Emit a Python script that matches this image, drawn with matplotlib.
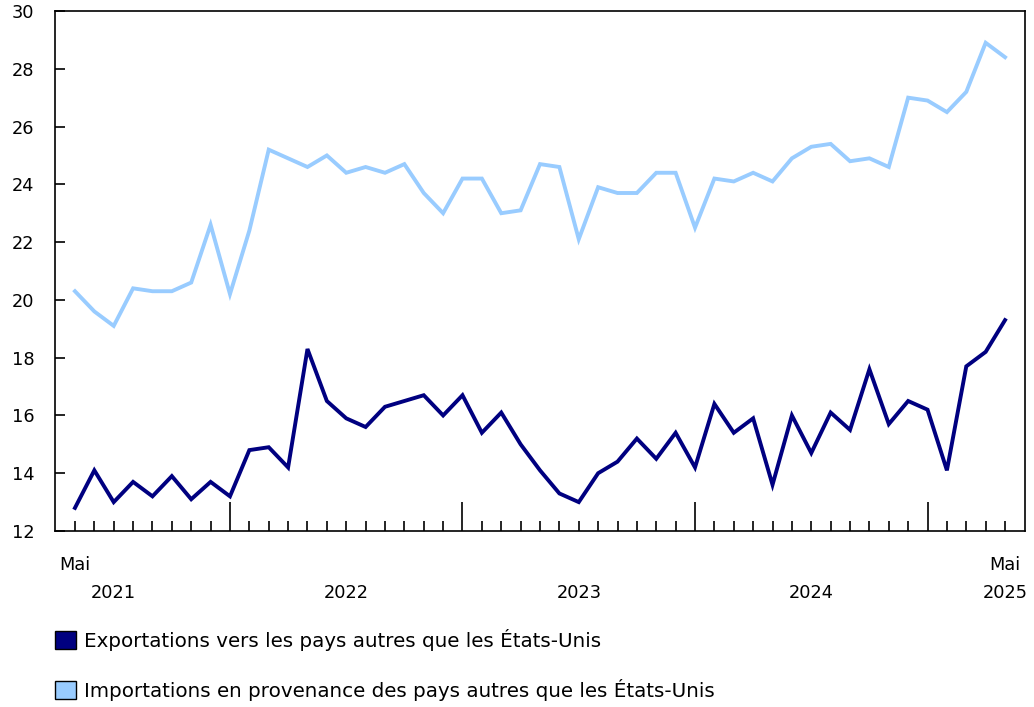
import numpy as np
import matplotlib.pyplot as plt
from matplotlib.patches import Patch

# monthly, May 2021 .. May 2025 (49 points)
exports = [12.8, 14.1, 13.0, 13.7, 13.2, 13.9, 13.1, 13.7, 13.2, 14.8, 14.9, 14.2,
           18.3, 16.5, 15.9, 15.6, 16.3, 16.5, 16.7, 16.0, 16.7, 15.4, 16.1, 15.0,
           14.1, 13.3, 13.0, 14.0, 14.4, 15.2, 14.5, 15.4, 14.2, 16.4, 15.4, 15.9,
           13.6, 16.0, 14.7, 16.1, 15.5, 17.6, 15.7, 16.5, 16.2, 14.1, 17.7, 18.2,
           19.3]
imports = [20.3, 19.6, 19.1, 20.4, 20.3, 20.3, 20.6, 22.6, 20.2, 22.4, 25.2, 24.9,
           24.6, 25.0, 24.4, 24.6, 24.4, 24.7, 23.7, 23.0, 24.2, 24.2, 23.0, 23.1,
           24.7, 24.6, 22.1, 23.9, 23.7, 23.7, 24.4, 24.4, 22.5, 24.2, 24.1, 24.4,
           24.1, 24.9, 25.3, 25.4, 24.8, 24.9, 24.6, 27.0, 26.9, 26.5, 27.2, 28.9,
           28.4]
years = ["2021", "2022", "2023", "2024", "2025"]
year_pos = [2, 14, 26, 38, 48]      # index of July (and last May)
jan_pos = [8, 20, 32, 44]
labels = ["Exportations vers les pays autres que les États-Unis",
          "Importations en provenance des pays autres que les États-Unis"]
c_exp = "#000080"
c_imp = "#99ccff"

plt.rcParams['font.family'] = ['DejaVu Sans']
fig = plt.figure(figsize=(10.34, 7.07), dpi=100)
ax = fig.add_axes([55/1034, 1 - 531/707, 970/1034, 520/707])

x = np.arange(len(exports))
ax.plot(x, imports, color=c_imp, lw=2.8, solid_joinstyle='miter')
ax.plot(x, exports, color=c_exp, lw=2.8, solid_joinstyle='miter')

ax.set_xlim(-1.03, 49.03)
ax.set_ylim(12, 30)
ax.set_yticks(np.arange(12, 31, 2))
ax.tick_params(axis='y', direction='in', length=7, width=1.2, labelsize=12.8, pad=15)

minor = [i for i in x if i not in jan_pos]
ax.set_xticks(jan_pos)
ax.set_xticks(minor, minor=True)
ax.set_xticklabels([])
ax.tick_params(axis='x', which='major', direction='in', length=21, width=1.2)
ax.tick_params(axis='x', which='minor', direction='in', length=7, width=1.2)

for s in ax.spines.values():
    s.set_linewidth(1.2)

for lab, pos in [("Mai", 0), ("Mai", 48)]:
    ax.annotate(lab, xy=(pos, 0), xycoords=('data', 'axes fraction'),
                xytext=(0, -24.5), textcoords='offset points',
                ha='center', va='center', fontsize=12.8)
for yr, pos in zip(years, year_pos):
    ax.annotate(yr, xy=(pos, 0), xycoords=('data', 'axes fraction'),
                xytext=(0, -44.5), textcoords='offset points',
                ha='center', va='center', fontsize=12.8)

handles = [Patch(facecolor=c_exp, edgecolor='black', lw=1),
           Patch(facecolor=c_imp, edgecolor='black', lw=1)]
fig.legend(handles, labels, loc='upper left', bbox_to_anchor=(47/1034, 1 - 621/707),
           frameon=False, fontsize=14.3, handlelength=1.05, handleheight=1.05,
           handletextpad=0.4, labelspacing=1.4, borderaxespad=0)

fig.savefig("out.png", dpi=100)
